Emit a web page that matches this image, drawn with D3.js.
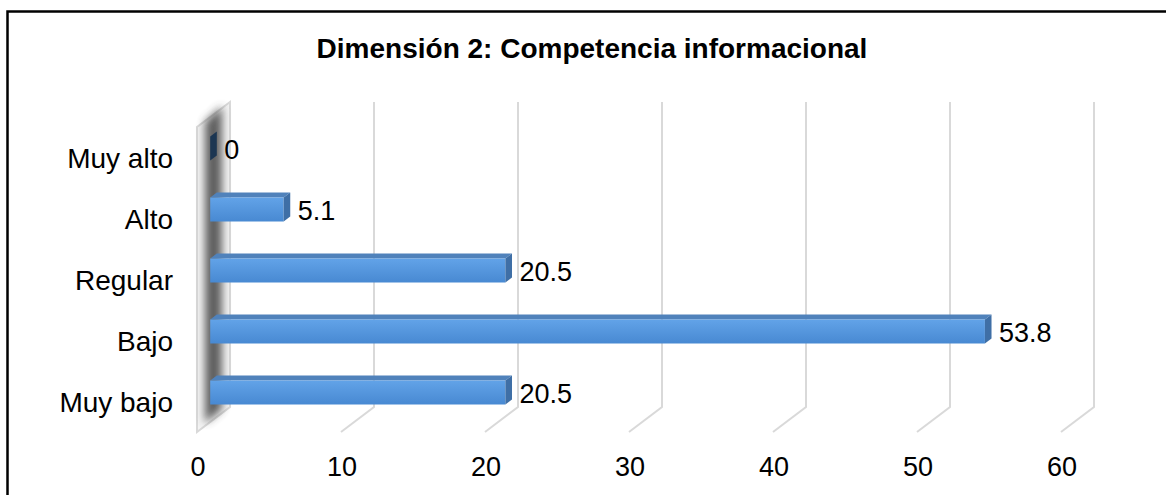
<!DOCTYPE html>
<html>
<head>
<meta charset="utf-8">
<script src="https://cdn.jsdelivr.net/npm/d3@7"></script>
<style>
  body { margin: 0; background: #fff; }
  text { font-family: "Liberation Sans", Arial, sans-serif; }
</style>
</head>
<body>
<div class="graphe"></div>
<script>
"use strict";

// donnees
var categories = ["Muy alto", "Alto", "Regular", "Bajo", "Muy bajo"];
var valeurs = [0, 5.1, 20.5, 53.8, 20.5];
var ticks = [0, 10, 20, 30, 40, 50, 60];
var titre = "Dimensión 2: Competencia informacional";

var larg = 1166, haut = 495;
var profX = 33, profY = 25; // profondeur 3D (arriere -> avant)
var hautBarre = 24;

var svg = d3.select(".graphe").append("svg")
  .attr("width", larg).attr("height", haut);

var defs = svg.append("defs");
var grad = defs.append("linearGradient").attr("id", "face")
  .attr("x1", 0).attr("y1", 0).attr("x2", 0).attr("y2", 1);
grad.append("stop").attr("offset", "0%").attr("stop-color", "#62a3e8");
grad.append("stop").attr("offset", "100%").attr("stop-color", "#4889d2");
defs.append("filter").attr("id", "flou")
  .attr("x", "-100%").attr("y", "-20%").attr("width", "300%").attr("height", "140%")
  .append("feGaussianBlur").attr("stdDeviation", 4);

// cadre
svg.append("rect").attr("x", 7.5).attr("y", 11.5).attr("width", larg + 20).attr("height", haut + 20)
  .attr("fill", "none").attr("stroke", "#000").attr("stroke-width", 2.5);

// echelles (plan arriere)
var x = d3.scaleLinear().domain([0, 60]).range([230, 1094]);
var yHaut = 102, yBas = 407;
var y = d3.scalePoint().domain(categories).range([148.5, 392.5]);

// titre
svg.append("text").attr("x", 592).attr("y", 58).attr("text-anchor", "middle")
  .attr("font-weight", "bold").attr("font-size", "28px").attr("fill", "#000").text(titre);

// grille
svg.selectAll("polyline.grille").data(ticks.slice(1)).enter().append("polyline")
  .attr("class", "grille")
  .attr("points", function(d){
    return [[x(d), yHaut], [x(d), yBas], [x(d) - profX, yBas + profY]].join(" ");
  })
  .attr("fill", "none").attr("stroke", "#d9d9d9").attr("stroke-width", 2);

// mur gauche
var x0 = x(0);
var mur = [[x0, yHaut], [x0, yBas], [x0 - profX, yBas + profY], [x0 - profX, yHaut + profY]];
svg.append("polygon").attr("points", mur.join(" "))
  .attr("fill", "#f4f4f4").attr("stroke", "#d9d9d9").attr("stroke-width", 2);
svg.append("polygon")
  .attr("points", [[x0 - 8, yHaut + 4], [x0 - 8, yBas + 2], [x0 - 25, yBas + 16], [x0 - 25, yHaut + 20]].join(" "))
  .attr("fill", "#444").attr("opacity", 0.85).attr("filter", "url(#flou)");

// barres (profondeur 0.4 a 0.6)
var dxA = profX * 0.6, dyA = profY * 0.6; // decalage face avant
var px = profX * 0.2, py = profY * 0.2;

var g = svg.selectAll("g.barre").data(valeurs).enter().append("g").attr("class", "barre");

g.each(function(d, i){
  var el = d3.select(this);
  var xg = x(0) - dxA, xd = x(d) - dxA;
  var yt = y(categories[i]) - hautBarre / 2, yb = yt + hautBarre;
  var sombre = d === 0;
  // face du dessus
  el.append("polygon")
    .attr("points", [[xg, yt], [xg + px, yt - py], [xd + px, yt - py], [xd, yt]].join(" "))
    .attr("fill", "#5082bb");
  // face avant
  el.append("rect").attr("x", xg).attr("y", yt).attr("width", xd - xg).attr("height", hautBarre)
    .attr("fill", "url(#face)");
  // cote
  el.append("polygon")
    .attr("points", [[xd, yt], [xd + px, yt - py], [xd + px, yb - py], [xd, yb]].join(" "))
    .attr("fill", sombre ? "#1c3652" : "#3f6fa6");
  // etiquette
  el.append("text").attr("x", xd + 14).attr("y", yt + hautBarre / 2 + 10.5)
    .attr("font-size", "27px").attr("fill", "#000").text(d);
});

// categories
svg.selectAll("text.cat").data(categories).enter().append("text")
  .attr("class", "cat")
  .attr("x", 173).attr("y", function(d){ return y(d) + 19.5; })
  .attr("text-anchor", "end").attr("font-size", "28px").attr("fill", "#000")
  .text(function(d){ return d; });

// axe x (plan avant)
svg.selectAll("text.tick").data(ticks).enter().append("text")
  .attr("class", "tick")
  .attr("x", function(d){ return x(d) - profX + 1; }).attr("y", 476)
  .attr("text-anchor", "middle").attr("font-size", "27px").attr("fill", "#000")
  .text(function(d){ return d; });
</script>
</body>
</html>
